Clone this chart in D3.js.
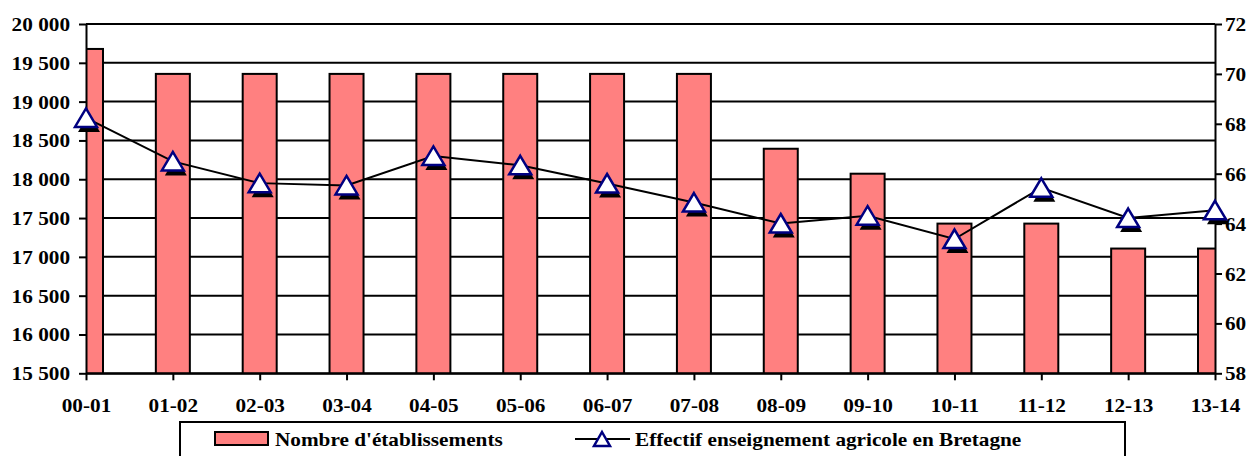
<!DOCTYPE html>
<html><head><meta charset="utf-8">
<script src="https://cdn.jsdelivr.net/npm/d3@7"></script>
<style>
html,body{margin:0;padding:0;background:#fff;}
svg text{font-family:"Liberation Serif","Times New Roman",serif;font-weight:bold;font-size:18px;fill:#000;}
</style></head>
<body><svg id="c" width="1257" height="456"></svg>
<script>
const categories = ["00-01","01-02","02-03","03-04","04-05","05-06","06-07","07-08","08-09","09-10","10-11","11-12","12-13","13-14"];
const etablissements = [71,70,70,70,70,70,70,70,67,66,64,64,63,63];
const effectif = [18790,18230,17950,17920,18300,18180,17945,17700,17430,17530,17230,17890,17500,17600];
const leftTicks = [15500,16000,16500,17000,17500,18000,18500,19000,19500,20000];
const rightTicks = [58,60,62,64,66,68,70,72];
const seriesNames = ["Nombre d'établissements","Effectif enseignement agricole en Bretagne"];

const SX = 1.18; // horizontal stretch of the original text
const svg = d3.select("#c");
const L = 86, R = 1215, T = 24, B = 373.3;

const x = d3.scalePoint().domain(categories).range([L, R]);
const yL = d3.scaleLinear().domain([15500, 20000]).range([B, T]);
const yR = d3.scaleLinear().domain([58, 72]).range([B, T]);
const barW = 34;

const fmt = d => d3.format(",")(d).replace(",", " ");

// clip for bars
svg.append("clipPath").attr("id","pc").append("rect")
  .attr("x", L).attr("y", 0).attr("width", R - L).attr("height", B);

// gridlines
svg.append("g").selectAll("line").data(leftTicks).join("line")
  .attr("x1", L).attr("x2", R).attr("y1", d => yL(d)).attr("y2", d => yL(d))
  .attr("stroke", "#000").attr("stroke-width", 2);

// bars
svg.append("g").attr("clip-path","url(#pc)").selectAll("rect").data(etablissements).join("rect")
  .attr("x", (d,i) => x(categories[i]) - barW/2)
  .attr("y", d => yR(d))
  .attr("width", barW)
  .attr("height", d => B - yR(d))
  .attr("fill", "#FF8080").attr("stroke", "#000").attr("stroke-width", 2);

// axes
const gl = svg.append("g").attr("transform", `translate(${L},0)`)
  .call(d3.axisLeft(yL).tickValues(leftTicks).tickFormat(fmt).tickSizeInner(7).tickSizeOuter(0));
gl.selectAll("text").attr("x", -16/SX).attr("dy", "6.5px").attr("transform", `scale(${SX},1)`);

const gr = svg.append("g").attr("transform", `translate(${R},0)`)
  .call(d3.axisRight(yR).tickValues(rightTicks).tickSizeInner(7).tickSizeOuter(0));
gr.selectAll("text").attr("x", 10/SX).attr("dy", "6.5px").attr("transform", `scale(${SX},1)`);

const gb = svg.append("g").attr("transform", `translate(0,${B})`)
  .call(d3.axisBottom(x).tickSizeInner(7).tickSizeOuter(0));
gb.selectAll("text").attr("y", 39).attr("dy", "0").attr("transform", `scale(${SX},1)`)
  .attr("x", d => x(d)*0 );
gb.selectAll(".tick text").attr("transform", `scale(${SX},1)`);

[gl, gr, gb].forEach(g => {
  g.selectAll("path.domain").attr("stroke", "#000").attr("stroke-width", 2);
  g.selectAll(".tick line").attr("stroke", "#000").attr("stroke-width", 2);
  g.selectAll("text").style("font-family", '"Liberation Serif","Times New Roman",serif')
    .style("font-weight","bold").style("font-size","18px").attr("fill","#000");
});

// line
const line = d3.line().x((d,i) => x(categories[i])).y(d => yL(d));
svg.append("path").datum(effectif).attr("d", line)
  .attr("fill", "none").attr("stroke", "#000").attr("stroke-width", 2);

// markers
const tri = "M0,-9.5L11,9L-11,9Z";
const mk = svg.append("g");
mk.selectAll("path.sh").data(effectif).join("path").attr("class","sh")
  .attr("d", tri).attr("transform", (d,i) => `translate(${x(categories[i])+3},${yL(d)+5})`)
  .attr("fill", "#000");
mk.selectAll("path.m").data(effectif).join("path").attr("class","m")
  .attr("d", tri).attr("transform", (d,i) => `translate(${x(categories[i])},${yL(d)})`)
  .attr("fill", "#fff").attr("stroke", "#000080").attr("stroke-width", 2.5);

// legend
const lg = svg.append("g");
lg.append("rect").attr("x", 180).attr("y", 422).attr("width", 945).attr("height", 60)
  .attr("fill", "#fff").attr("stroke", "#000").attr("stroke-width", 2);
lg.append("rect").attr("x", 215).attr("y", 432).attr("width", 53).attr("height", 13)
  .attr("fill", "#FF8080").attr("stroke", "#000").attr("stroke-width", 2);
lg.append("text").attr("transform", `translate(275,446) scale(${SX},1)`).text(seriesNames[0]);
lg.append("line").attr("x1", 575).attr("x2", 630).attr("y1", 439).attr("y2", 439)
  .attr("stroke", "#000").attr("stroke-width", 2);
lg.append("path").attr("d", "M0,-7L8,7L-8,7Z").attr("transform", "translate(602,439)")
  .attr("fill", "#fff").attr("stroke", "#000080").attr("stroke-width", 2.5);
lg.append("text").attr("transform", `translate(635,446) scale(${SX},1)`).text(seriesNames[1]);
</script></body></html>
